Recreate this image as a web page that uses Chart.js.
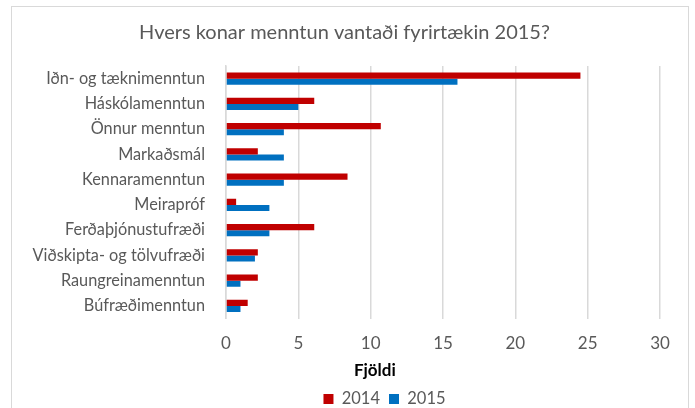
<!DOCTYPE html>
<html>
<head>
<meta charset="utf-8">
<script src="https://cdn.jsdelivr.net/npm/chart.js@4/dist/chart.umd.min.js"></script>
<style>
  html, body { margin: 0; padding: 0; background: #fff; overflow: hidden; }
  #frame { position: absolute; left: 11px; top: 6px; width: 676px; height: 440px; border: 1px solid #d9d9d9; }
  #wrap { position: absolute; left: 0; top: 0; width: 676px; height: 412px; }
</style>
</head>
<body>
<div id="frame"><div id="wrap"><canvas id="c"></canvas></div></div>
<script>
const categories = ["Iðn- og tæknimenntun", "Háskólamenntun", "Önnur menntun", "Markaðsmál", "Kennaramenntun", "Meirapróf", "Ferðaþjónustufræði", "Viðskipta- og tölvufræði", "Raungreinamenntun", "Búfræðimenntun"];
const values2014 = [24.5, 6.1, 10.7, 2.2, 8.4, 0.7, 6.1, 2.2, 2.2, 1.5];
const values2015 = [16.0, 5.0, 4.0, 4.0, 4.0, 3.0, 3.0, 2.0, 1.0, 1.0];
const seriesNames = ["2014", "2015"];
const xTicks = [0, 5, 10, 15, 20, 25, 30];

const FONT = "Lato, 'Liberation Sans', sans-serif";
const GREY = "#595959";

// Axis title is placed left of the plot centre (as in the reference) by trailing spaces
const mctx = document.createElement('canvas').getContext('2d');
mctx.font = "bold 17px " + FONT;
const spaceW = mctx.measureText('\u00a0').width || 4;
const AXIS_TITLE_SHIFT = 136;
const xTitleText = 'Fjöldi' + '\u00a0'.repeat(Math.round(AXIS_TITLE_SHIFT / spaceW));

// Shifts the legend to its position in the reference
const legendShift = {
  id: 'legendShift',
  afterLayout(chart) {
    const lg = chart.legend;
    if (!lg) return;
    const dx = 40;
    const pad = lg.options.labels.padding;
    const fs = lg.options.labels.font.size;
    const dy = 392 - (lg.top + pad + fs / 2);
    lg.left += dx; lg.right += dx;
    lg.top += dy; lg.bottom += dy;
  }
};

new Chart(document.getElementById('c'), {
  type: 'bar',
  data: {
    labels: categories,
    datasets: [
      { label: seriesNames[0], data: values2014, backgroundColor: '#C00000', borderWidth: 0 },
      { label: seriesNames[1], data: values2015, backgroundColor: '#0070C0', borderWidth: 0 }
    ]
  },
  plugins: [legendShift],
  options: {
    indexAxis: 'y',
    responsive: true,
    maintainAspectRatio: false,
    animation: false,
    layout: { padding: { left: 17, right: 28, top: 14, bottom: 0 } },
    datasets: { bar: { barPercentage: 1.0, categoryPercentage: 0.48 } },
    plugins: {
      title: {
        display: true,
        text: 'Hvers konar menntun vantaði fyrirtækin 2015?',
        color: GREY,
        font: { family: FONT, size: 20, weight: 'normal' },
        padding: { top: 0, bottom: 21 }
      },
      legend: {
        position: 'bottom',
        labels: {
          color: GREY,
          font: { family: FONT, size: 16.5 },
          boxWidth: 10, boxHeight: 10, padding: 9
        }
      },
      tooltip: { enabled: false }
    },
    scales: {
      x: {
        min: 0, max: 30,
        afterBuildTicks: (axis) => { axis.ticks = xTicks.map(v => ({ value: v })); },
        afterFit: (axis) => { axis.height = 65; },
        grid: { color: '#d9d9d9', lineWidth: 1.5, drawTicks: false },
        border: { display: false },
        ticks: { color: GREY, font: { family: FONT, size: 17 }, padding: 15 },
        title: { display: true, text: xTitleText, color: '#000', font: { family: FONT, size: 17, weight: 'bold' }, padding: { top: 0, bottom: 3 } }
      },
      y: {
        grid: { display: false, drawTicks: false },
        border: { display: true, color: '#d9d9d9', width: 1.5 },
        ticks: { color: GREY, font: { family: FONT, size: 16.3 }, padding: 21 },
        afterFit: (axis) => { axis.width = 197; }
      }
    }
  }
});
</script>
</body>
</html>
